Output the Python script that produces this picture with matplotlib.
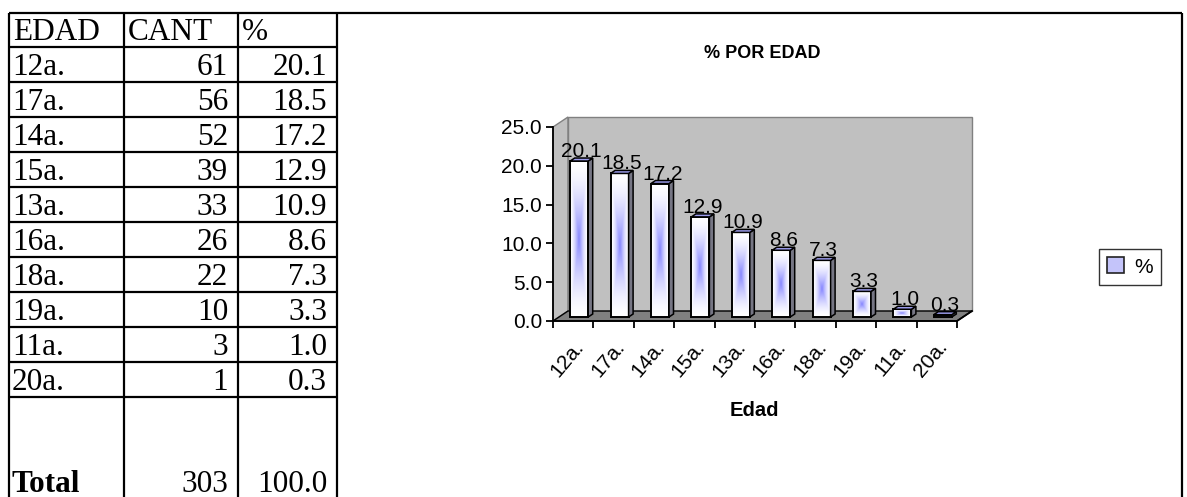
import numpy as np
import matplotlib.pyplot as plt
from matplotlib.patches import Polygon, Patch

# -------------------------------
# Data
# -------------------------------
edades = ["12a.", "17a.", "14a.", "15a.", "13a.", "16a.", "18a.", "19a.", "11a.", "20a."]
cantidad = [61, 56, 52, 39, 33, 26, 22, 10, 3, 1]
porcentaje = [20.1, 18.5, 17.2, 12.9, 10.9, 8.6, 7.3, 3.3, 1.0, 0.3]
total_cant = 303
total_pct = 100.0
col_headers = ["EDAD", "CANT", "%"]
yticks = [0, 5, 10, 15, 20, 25]

W, H = 1187, 497
fig = plt.figure(figsize=(W / 100, H / 100), dpi=100)

# -------------------------------
# Spreadsheet table (pixel coords)
# -------------------------------
bg = fig.add_axes([0, 0, 1, 1])
bg.set_xlim(0, W)
bg.set_ylim(H, 0)
bg.axis("off")

serif = "Liberation Serif"
sans = "Liberation Sans"
cols = [9, 124, 238, 337]
top, head_bottom, row_h = 13, 47, 35
lw = 1.6

bg.hlines(top, cols[0], 1182, color="black", lw=lw)
for i in range(len(edades) + 1):
    bg.hlines(head_bottom + i * row_h, cols[0], cols[-1], color="black", lw=lw)
bg.vlines(cols + [1182], top, H, color="black", lw=lw)

fs = 22.5
for c, head in zip(cols[:3], col_headers):
    bg.text(c + 4, head_bottom - 7, head, family=serif, fontsize=fs, va="baseline")
for i, (e, c, p) in enumerate(zip(edades, cantidad, porcentaje)):
    yb = head_bottom + (i + 1) * row_h - 7
    bg.text(cols[0] + 3, yb, e, family=serif, fontsize=fs, va="baseline")
    bg.text(cols[2] - 10, yb, f"{c}", family=serif, fontsize=fs, va="baseline", ha="right")
    bg.text(cols[3] - 10, yb, f"{p:.1f}", family=serif, fontsize=fs, va="baseline", ha="right")
bg.text(cols[0] + 3, H - 5, "Total", family=serif, fontsize=fs, va="baseline", weight="bold")
bg.text(cols[2] - 10, H - 5, f"{total_cant}", family=serif, fontsize=fs, va="baseline", ha="right")
bg.text(cols[3] - 10, H - 5, f"{total_pct:.1f}", family=serif, fontsize=fs, va="baseline", ha="right")

# -------------------------------
# 3D-look column chart
# -------------------------------
x0_px, x1_px, y0_px, y1_px = 553, 957, 321, 127
ax = fig.add_axes([x0_px / W, (H - y0_px) / H, (x1_px - x0_px) / W, (y0_px - y1_px) / H])
n = len(edades)
ax.patch.set_visible(False)

pxx = n / (x1_px - x0_px)
pxy = 25 / (y0_px - y1_px)
ddx, ddy = 15 * pxx, 10 * pxy

left, right = -0.5, n - 0.5
side_wall = Polygon([(left, 0), (left + ddx, ddy), (left + ddx, 25 + ddy), (left, 25)],
                    closed=True, fc="#c0c0c0", ec="#808080", lw=1, clip_on=False, zorder=0)
back_wall = Polygon([(left + ddx, ddy), (right + ddx, ddy), (right + ddx, 25 + ddy), (left + ddx, 25 + ddy)],
                    closed=True, fc="#c0c0c0", ec="#808080", lw=1, clip_on=False, zorder=0)
floor = Polygon([(left, 0), (right, 0), (right + ddx, ddy), (left + ddx, ddy)],
                closed=True, fc="#808080", ec="black", lw=1, clip_on=False, zorder=1)
for p in (side_wall, back_wall, floor):
    ax.add_patch(p)

bw = 18 * pxx
f1, f2 = 0.4, 0.7
xs = np.arange(n) + f1 * ddx
bars = ax.bar(xs, porcentaje, width=bw, bottom=f1 * ddy, facecolor="none",
              edgecolor="black", lw=1.4, zorder=4, clip_on=False, label="%")

# white-to-blue "from centre" fill of each column face
blue = np.array([0.52, 0.52, 1.0])
u = np.abs(np.linspace(-1, 1, 41))
for rect, v in zip(bars, porcentaje):
    bx, by = rect.get_x(), rect.get_y()
    ny = max(int(v * 8), 5)
    w = np.abs(np.linspace(-1, 1, ny))
    t = np.maximum(u[None, :], w[:, None])
    k = ((1 - t) ** 1.6)[..., None]
    img = 1 - (1 - blue) * k
    ax.imshow(img, extent=(bx, bx + bw, by, by + v), aspect="auto",
              interpolation="bilinear", zorder=3, clip_on=False)
    dx, dy = (f2 - f1) * ddx, (f2 - f1) * ddy
    side = Polygon([(bx + bw, by), (bx + bw + dx, by + dy), (bx + bw + dx, by + v + dy), (bx + bw, by + v)],
                   closed=True, fc="#767684", ec="black", lw=1.1, zorder=4, clip_on=False)
    topf = Polygon([(bx, by + v), (bx + bw, by + v), (bx + bw + dx, by + v + dy), (bx + dx, by + v + dy)],
                   closed=True, fc="#9c9cec", ec="black", lw=1.1, zorder=4, clip_on=False)
    ax.add_patch(side)
    ax.add_patch(topf)
    ax.text(bx + bw / 2 + dx / 2, by + v + 4 * pxy, f"{v:.1f}", ha="center", va="baseline",
            family=sans, fontsize=15, zorder=6)

ax.set_xlim(-0.5, n - 0.5)
ax.set_ylim(0, 25)

ax.set_yticks(yticks)
ax.set_yticklabels([f"{t:.1f}" for t in yticks], family=sans, fontsize=15)
ax.set_xticks(range(n))
ax.set_xticklabels(edades, family=sans, fontsize=15, rotation=50, ha="right", rotation_mode="anchor")
ax.set_xticks(np.arange(n + 1) - 0.5, minor=True)
ax.tick_params(axis="x", which="major", length=0, pad=12)
ax.tick_params(axis="x", which="minor", length=5, width=1.3, direction="out")
ax.tick_params(axis="y", length=5, width=1.3, direction="out", pad=3)
for s in ("top", "right"):
    ax.spines[s].set_visible(False)
for s in ("left", "bottom"):
    ax.spines[s].set_linewidth(1.3)
    ax.spines[s].set_zorder(5)
ax.plot([right, right + ddx], [0, ddy], color="black", lw=1.3, clip_on=False, zorder=5)

bg.text(754, 410, "Edad", family=sans, fontsize=14.5, weight="bold", ha="center", va="center")
bg.text(762, 53, "% POR EDAD", family=sans, fontsize=13, weight="bold", ha="center", va="center")

handle = Patch(facecolor="#c4c4fa", edgecolor="#222222", lw=1.2)
fig.legend(handles=[handle], labels=["%"], loc="center", bbox_to_anchor=(1130 / W, 1 - 267 / H),
           frameon=True, fancybox=False, edgecolor="black",
           handlelength=0.8, handleheight=0.8, handletextpad=0.5, borderpad=0.4,
           prop={"family": sans, "size": 15})

fig.savefig("out.png", dpi=100)
